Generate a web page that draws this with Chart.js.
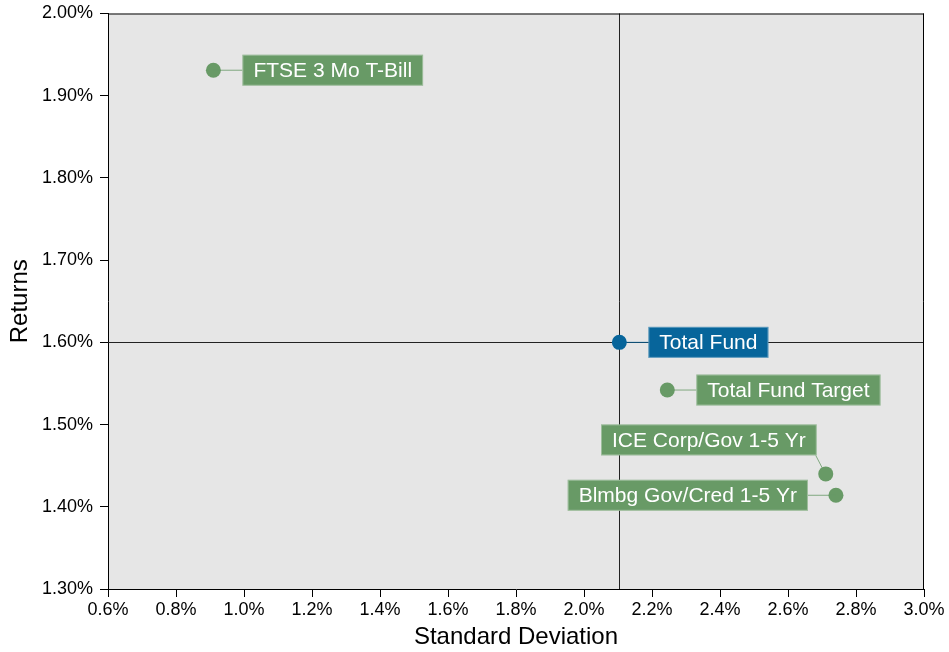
<!DOCTYPE html>
<html>
<head>
<meta charset="utf-8">
<script src="https://cdn.jsdelivr.net/npm/chart.js@4/dist/chart.umd.min.js"></script>
<style>
  html, body { margin: 0; padding: 0; background: #ffffff; }
  #wrap { width: 949px; height: 652px; }
</style>
</head>
<body>
<div id="wrap"><canvas id="c" width="949" height="652"></canvas></div>
<script>
// ---- data ----
const names = ["FTSE 3 Mo T-Bill", "Total Fund", "Total Fund Target", "ICE Corp/Gov 1-5 Yr", "Blmbg Gov/Cred 1-5 Yr"];
const stdDev = [0.91, 2.104, 2.245, 2.711, 2.741];
const returns = [1.931, 1.60, 1.542, 1.440, 1.414];
const xTicks = [0.6, 0.8, 1.0, 1.2, 1.4, 1.6, 1.8, 2.0, 2.2, 2.4, 2.6, 2.8, 3.0];
const yTicks = [1.3, 1.4, 1.5, 1.6, 1.7, 1.8, 1.9, 2.0];
const focusName = "Total Fund";

// ---- styles ----
const GREEN = '#689a66';
const BLUE = '#07659b';
const colors = names.map(n => n === focusName ? BLUE : GREEN);
// label placement: side of the point the box sits on, gap in px, vertical shift in px
const labelLayout = {
  "FTSE 3 Mo T-Bill": { side: 'right', gap: 29, dy: 0 },
  "Total Fund": { side: 'right', gap: 29, dy: 0 },
  "Total Fund Target": { side: 'right', gap: 29, dy: 0 },
  "ICE Corp/Gov 1-5 Yr": { side: 'left', gap: 9, dy: -34, corner: true },
  "Blmbg Gov/Cred 1-5 Yr": { side: 'left', gap: 28, dy: 0 }
};

const bgPlugin = {
  id: 'bg',
  beforeDraw(chart) {
    const { ctx, chartArea: a } = chart;
    ctx.save();
    ctx.fillStyle = '#e6e6e6';
    ctx.fillRect(a.left, a.top, a.right - a.left, a.bottom - a.top);
    ctx.restore();
  },
  beforeDatasetsDraw(chart) {
    const { ctx, chartArea: a, scales } = chart;
    const i = names.indexOf(focusName);
    const px = Math.round(scales.x.getPixelForValue(stdDev[i])) + 0.5;
    const py = Math.round(scales.y.getPixelForValue(returns[i])) + 0.5;
    ctx.save();
    ctx.strokeStyle = '#222222';
    ctx.lineWidth = 1;
    ctx.beginPath();
    ctx.moveTo(px, a.top); ctx.lineTo(px, a.bottom);
    ctx.moveTo(a.left, py); ctx.lineTo(a.right, py);
    ctx.stroke();
    // top & right frame
    ctx.strokeStyle = '#000000';
    ctx.beginPath();
    ctx.moveTo(a.left, a.top + 0.5); ctx.lineTo(a.right, a.top + 0.5);
    ctx.moveTo(a.right - 0.5, a.top); ctx.lineTo(a.right - 0.5, a.bottom);
    ctx.stroke();
    ctx.restore();
  },
  afterDatasetsDraw(chart) {
    const { ctx, scales } = chart;
    ctx.save();
    ctx.font = '21px "Liberation Sans", Arial, sans-serif';
    ctx.textBaseline = 'middle';
    names.forEach((n, i) => {
      const L = labelLayout[n];
      const px = scales.x.getPixelForValue(stdDev[i]);
      const py = scales.y.getPixelForValue(returns[i]);
      const tw = ctx.measureText(n).width;
      const pad = 11;
      const w = tw + 2 * pad, h = 31;
      const cy = py + L.dy;
      const bx = L.side === 'right' ? px + L.gap : px - L.gap - w;
      const by = cy - h / 2;
      // leader
      ctx.strokeStyle = colors[i];
      ctx.globalAlpha = 0.8;
      ctx.lineWidth = 1;
      ctx.beginPath();
      if (L.corner) {
        ctx.moveTo(bx + w - 1, by + h);
        ctx.lineTo(px - 3, py - 5);
      } else {
        ctx.moveTo(px, py);
        ctx.lineTo(L.side === 'right' ? bx : bx + w, cy);
      }
      ctx.stroke();
      ctx.globalAlpha = 1;
      ctx.fillStyle = colors[i];
      ctx.fillRect(bx, by, w, h);
      ctx.strokeStyle = 'rgba(255,255,255,0.35)';
      ctx.strokeRect(bx + 0.5, by + 0.5, w - 1, h - 1);
      ctx.fillStyle = '#ffffff';
      ctx.textAlign = 'left';
      ctx.fillText(n, bx + pad, cy + 1);
    });
    ctx.restore();
  }
};

const fontFam = '"Liberation Sans", Arial, sans-serif';

new Chart(document.getElementById('c'), {
  type: 'scatter',
  data: {
    datasets: [{
      data: names.map((n, i) => ({ x: stdDev[i], y: returns[i] })),
      backgroundColor: colors,
      borderColor: colors,
      pointRadius: 7.5,
      pointHoverRadius: 7.5,
      borderWidth: 0
    }]
  },
  options: {
    responsive: false,
    animation: false,
    events: [],
    layout: { padding: { top: 13.5, right: 25, left: 0, bottom: 0 } },
    plugins: { legend: { display: false }, tooltip: { enabled: false } },
    scales: {
      x: {
        type: 'linear',
        min: xTicks[0], max: xTicks[xTicks.length - 1],
        afterBuildTicks(s) { s.ticks = xTicks.map(v => ({ value: v })); },
        afterFit(s) { s.height = 63; s.paddingLeft = 0; s.paddingRight = 0; },
        ticks: {
          color: '#000', padding: 2, maxRotation: 0, autoSkip: false,
          font: { family: fontFam, size: 18 },
          callback: v => Number(v).toFixed(1) + '%'
        },
        grid: { drawOnChartArea: false, drawTicks: true, tickLength: 8, color: '#000' },
        border: { display: true, color: '#000', width: 1 },
        title: {
          display: true, text: 'Standard Deviation', color: '#000',
          font: { family: fontFam, size: 24 }, padding: { top: 0, bottom: 0 }
        }
      },
      y: {
        type: 'linear',
        min: yTicks[0], max: yTicks[yTicks.length - 1],
        afterBuildTicks(s) { s.ticks = yTicks.map(v => ({ value: v })); },
        afterFit(s) { s.width = 108; s.paddingTop = 0; s.paddingBottom = 0; },
        ticks: {
          color: '#000', padding: 7, autoSkip: false,
          font: { family: fontFam, size: 18 },
          callback: v => Number(v).toFixed(2) + '%'
        },
        grid: { drawOnChartArea: false, drawTicks: true, tickLength: 8, color: '#000' },
        border: { display: true, color: '#000', width: 1 },
        title: {
          display: true, text: 'Returns', color: '#000',
          font: { family: fontFam, size: 24 }, padding: { top: 6, bottom: 0 }
        }
      }
    }
  },
  plugins: [bgPlugin]
});
</script>
</body>
</html>
